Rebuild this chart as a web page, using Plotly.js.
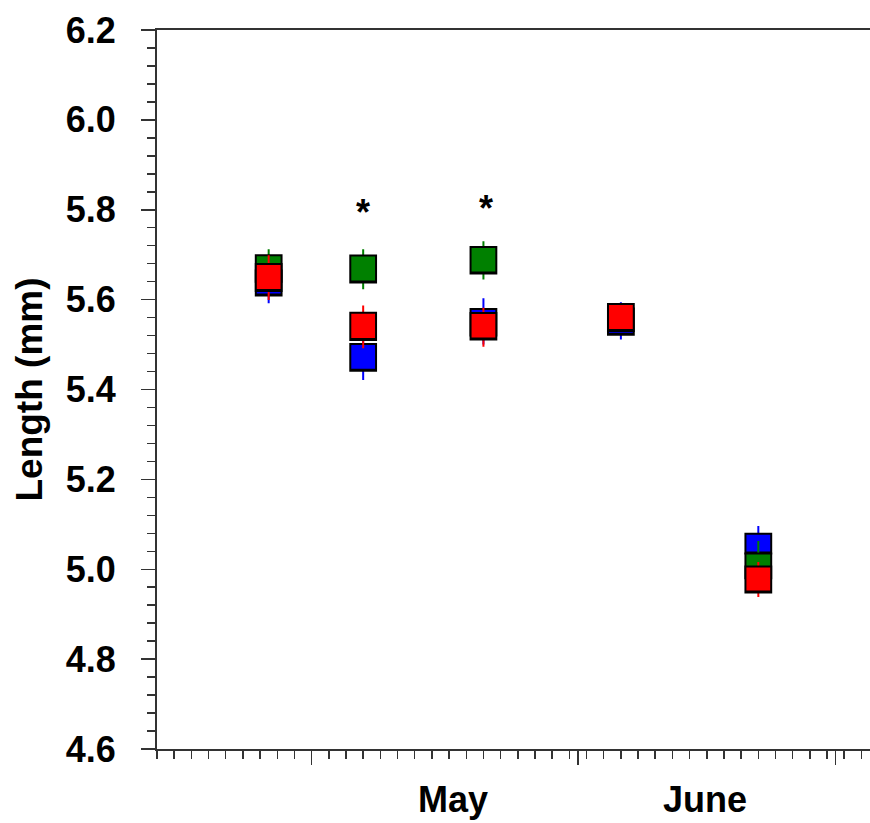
<!DOCTYPE html>
<html>
<head>
<meta charset="utf-8">
<script src="https://cdn.plot.ly/plotly-3.0.1.min.js"></script>
<style>html,body{margin:0;padding:0;background:#fff;}#chart{width:870px;height:823px;}</style>
</head>
<body>
<div id="chart"></div>
<script>
// ---- data ----
const sampleDates = ['2000-04-26', '2000-05-07', '2000-05-21', '2000-06-06', '2000-06-22'];

const blueBoxLow    = [5.609, 5.442, 5.520, 5.522, 5.035];
const blueBoxHigh   = [5.665, 5.501, 5.579, 5.580, 5.079];
const blueWhiskLow  = [5.592, 5.421, 5.500, 5.511, 5.000];
const blueWhiskHigh = [5.685, 5.520, 5.603, 5.594, 5.096];

const greenBoxLow    = [5.640, 5.638, 5.658, null, 4.980];
const greenBoxHigh   = [5.699, 5.698, 5.717, null, 5.035];
const greenWhiskLow  = [5.625, 5.623, 5.645, null, 4.960];
const greenWhiskHigh = [5.712, 5.712, 5.730, null, 5.063];

const redBoxLow    = [5.619, 5.510, 5.511, 5.530, 4.948];
const redBoxHigh   = [5.679, 5.571, 5.570, 5.590, 5.006];
const redWhiskLow  = [5.599, 5.492, 5.495, 5.535, 4.938];
const redWhiskHigh = [5.699, 5.587, 5.582, 5.585, 5.016];

const sigDates = ['2000-05-07', '2000-05-21 06:00'];
const sigY     = [5.794, 5.802];
const sigText  = ['*', '*'];

const monthTickDates  = ['2000-05-01', '2000-06-01', '2000-07-01'];
const monthLabelDates = ['2000-05-17 10:00', '2000-06-15 18:00'];
const monthLabels     = ['May', 'June'];

const xRange = ['2000-04-13', '2000-07-05'];
const yRange = [4.6, 6.2];

// ---- build ----
const FONT = 'Liberation Sans, Arial, Helvetica, sans-serif';
const DAY = 86400000;
const BOXW = 3 * DAY;

function pick(arr, idx) { return idx.map(i => arr[i]); }

function seriesTraces(color, boxLow, boxHigh, wLow, wHigh) {
  const idx = sampleDates.map((d, i) => i).filter(i => boxLow[i] !== null);
  const x = pick(sampleDates, idx);
  const bl = pick(boxLow, idx), bh = pick(boxHigh, idx);
  const wl = pick(wLow, idx), wh = pick(wHigh, idx);
  const mid = bl.map((v, k) => (v + bh[k]) / 2);
  const whisk = {
    type: 'box', x: x, q1: mid, median: mid, q3: mid,
    lowerfence: wl, upperfence: wh,
    width: BOXW, whiskerwidth: 0, boxpoints: false,
    line: {color: color, width: 2}, fillcolor: color,
    showlegend: false, hoverinfo: 'skip'
  };
  const box = {
    type: 'box', x: x, q1: bl, median: bl, q3: bh,
    lowerfence: bl, upperfence: bh,
    width: BOXW, whiskerwidth: 0, boxpoints: false,
    line: {color: '#000000', width: 2}, fillcolor: color,
    showlegend: false, hoverinfo: 'skip'
  };
  return [whisk, box];
}

const traces = [].concat(
  seriesTraces('#0000ff', blueBoxLow, blueBoxHigh, blueWhiskLow, blueWhiskHigh),
  seriesTraces('#008000', greenBoxLow, greenBoxHigh, greenWhiskLow, greenWhiskHigh),
  seriesTraces('#ff0000', redBoxLow, redBoxHigh, redWhiskLow, redWhiskHigh)
);

const annotations = [];
sigDates.forEach((d, i) => annotations.push({
  x: d, y: sigY[i], xref: 'x', yref: 'y', text: sigText[i], showarrow: false,
  font: {family: FONT, size: 36, color: '#000', weight: 'bold'}
}));
monthLabelDates.forEach((d, i) => annotations.push({
  x: d, y: 0, xref: 'x', yref: 'paper', yanchor: 'top', yshift: -28,
  text: monthLabels[i], showarrow: false,
  font: {family: FONT, size: 36, color: '#000', weight: 'bold'}
}));

const layout = {
  width: 870, height: 823,
  margin: {l: 157, r: 0, t: 30, b: 74},
  paper_bgcolor: '#fff', plot_bgcolor: '#fff',
  boxmode: 'overlay',
  showlegend: false,
  xaxis: {
    type: 'date', range: xRange,
    tickmode: 'array', tickvals: monthTickDates,
    showticklabels: false,
    ticks: 'outside', ticklen: 14, tickwidth: 1.5, tickcolor: '#333',
    minor: {dtick: 2 * DAY, tick0: '2000-04-13', ticks: 'outside', ticklen: 8, tickwidth: 1.5, tickcolor: '#333', showgrid: false},
    showline: true, linecolor: '#333', linewidth: 2, mirror: true,
    showgrid: false, zeroline: false, fixedrange: true
  },
  yaxis: {
    range: yRange, tick0: 4.6, dtick: 0.2, tickformat: '.1f',
    ticks: 'outside', ticklen: 14, tickwidth: 1.5, tickcolor: '#333',
    minor: {dtick: 0.04, ticks: 'outside', ticklen: 8, tickwidth: 1.5, tickcolor: '#333', showgrid: false},
    showline: true, linecolor: '#333', linewidth: 2,
    showgrid: false, zeroline: false,
    ticklabelstandoff: 18,
    tickfont: {family: FONT, size: 36, color: '#000', weight: 'bold'},
    title: {text: 'Length (mm)', standoff: 12, font: {family: FONT, size: 37, color: '#000', weight: 'bold'}}
  },
  annotations: annotations
};

Plotly.newPlot('chart', traces, layout, {displayModeBar: false, staticPlot: true});
</script>
</body>
</html>
